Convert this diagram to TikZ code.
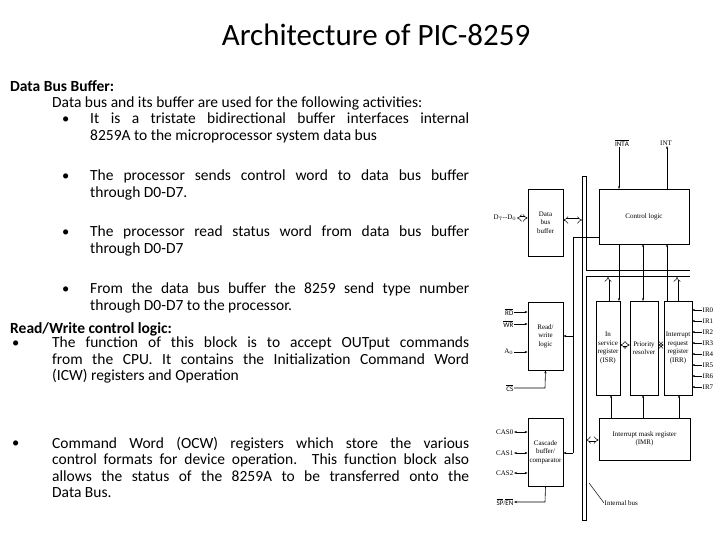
\documentclass[tikz,border=0pt]{standalone}
\usepackage{fontspec}
\setmainfont{Carlito}
\newfontfamily\dg{Liberation Serif}
\usetikzlibrary{arrows.meta}
\hyphenpenalty=10000
\exhyphenpenalty=10000
\begin{document}
\begin{tikzpicture}[x=1pt,y=-1pt,
  body/.style={anchor=north west,inner sep=0,align=justify,font=\fontsize{15.5}{16.3}\selectfont},
  bul/.style={anchor=west,inner sep=0,font=\fontsize{14.5}{16}\selectfont},
  blk/.style={draw,line width=0.7pt,inner sep=0,align=center,font=\dg\fontsize{7}{8.5}\selectfont},
  lbl/.style={font=\dg\fontsize{7}{8}\selectfont,inner sep=0.5pt},
  ar/.style={-{Stealth[length=3pt]},line width=0.6pt},
  dar/.style={{Stealth[length=3pt]}-{Stealth[length=3pt]},line width=0.6pt},
  hol/.style={double,double distance=2pt,line width=0.5pt,{Implies}-{Implies}},
  holu/.style={double,double distance=2pt,line width=0.5pt,-{Implies}}]
\useasboundingbox (0,0) rectangle (720,540);
% title
\node[font=\fontsize{31}{33}\selectfont] (title) at (376,35) {Architecture of PIC-8259};
% left text
\node[body,font=\bfseries\fontsize{15.5}{16}\selectfont] (h1) at (10,80) {Data Bus Buffer:};
\node[body] (t1) at (52,97) {Data bus and its buffer are used for the following activities:};
\foreach \y/\n in {120/b1,177/b2,233/b3,290/b4}{\node[bul] (\n) at (62,\y) {\textbullet};}
\node[body,text width=379] (p1) at (90,113) {It is a tristate bidirectional buffer interfaces internal\linebreak 8259A to the microprocessor system data bus};
\node[body,text width=379] (p2) at (90,170) {The processor sends control word to data bus buffer\linebreak through D0-D7.};
\node[body,text width=379] (p3) at (90,226) {The processor read status word from data bus buffer\linebreak through D0-D7};
\node[body,text width=379] (p4) at (90,283) {From the data bus buffer the 8259 send type number\linebreak through D0-D7 to the processor.};
\node[body,font=\bfseries\fontsize{15.5}{16}\selectfont] (h2) at (10,322) {Read/Write control logic:};
\node[bul] (b5) at (12,344) {\textbullet};
\node[body,text width=417] (p5) at (52,337) {The function of this block is to accept OUTput commands\linebreak from the CPU. It contains the Initialization Command Word\linebreak (ICW) registers and Operation};
\node[bul] (b6) at (12,444) {\textbullet};
\node[body,text width=417] (p6) at (52,437) {Command Word (OCW) registers which store the various\linebreak control formats for device operation. This function block also\linebreak allows the status of the 8259A to be transferred onto the\linebreak Data Bus.};
% diagram blocks
\node[blk,minimum width=35,minimum height=67] (dbb) at (545.5,222.5) {Data\\bus\\buffer};
\node[blk,minimum width=90,minimum height=55] (cl) at (644,216.5) {Control logic};
\node[blk,minimum width=35,minimum height=68] (rw) at (545.5,336) {Read/\\write\\logic};
\node[blk,minimum width=35,minimum height=68] (cas) at (545.5,452) {Cascade\\buffer/\\comparator};
\node[blk,minimum width=24,minimum height=94] (isr) at (608,348) {In\\service\\register\\(ISR)};
\node[blk,minimum width=28,minimum height=94] (pr) at (644,348) {Priority\\resolver};
\node[blk,minimum width=28,minimum height=94] (irr) at (678,348) {Interrupt\\request\\register\\(IRR)};
\node[blk,minimum width=91,minimum height=42] (imr) at (644.5,439) {Interrupt mask register\\(IMR)};
% bus
\draw[line width=0.7pt] (582,520) -- (582,176) -- (586,176) -- (586,270) -- (690,270);
\draw[line width=0.7pt] (690,276) -- (586,276) -- (586,520) -- (582,520);
% labels
\node[lbl] (d) at (505,218) {D$_7$--D$_0$};
\node[lbl] (inta) at (622,143) {$\overline{\mathrm{INTA}}$};
\node[lbl] (int) at (666,143) {INT};
\node[lbl,anchor=east] (rd) at (514,312) {$\overline{\mathrm{RD}}$};
\node[lbl,anchor=east] (wr) at (514,324) {$\overline{\mathrm{WR}}$};
\node[lbl,anchor=east] (a0) at (514,352) {A$_0$};
\node[lbl,anchor=east] (cs) at (514,388) {$\overline{\mathrm{CS}}$};
\node[lbl,anchor=east] (c0) at (514,432) {CAS0};
\node[lbl,anchor=east] (c1) at (514,453) {CAS1};
\node[lbl,anchor=east] (c2) at (514,473) {CAS2};
\node[lbl,anchor=east] (sp) at (514,502) {$\overline{\mathrm{SP}}$/$\overline{\mathrm{EN}}$};
\node[lbl,anchor=west] (ib) at (604,503) {Internal bus};
\foreach \i in {0,...,7}{\node[lbl,anchor=west] (ir\i) at (702,{310+11*\i}) {IR\i};
  \draw[ar] (ir\i.west) -- ++(-10,0);}
% connectors
\draw[hol] (d.east) -- (dbb.west|-d.east);
\draw[hol] (dbb.east|-0,220) -- (582,220);
\draw[ar] (inta.south-|619,0) -- (619,189);
\draw[ar] (667,189) -- (int.south-|667,0);
\draw[line width=0.6pt] (599,237) -- (573,237) -- (573,453);
\draw[ar] (573,336) -- (rw.east|-0,336);
\draw[ar] (573,453) -- (cas.east|-0,453);
\draw[ar] (619,244) -- (619,301);
\draw[dar] (643,244) -- (643,301);
\draw[ar] (667,301) -- (667,244);
\draw[holu] (608,301) -- (608,277);
\draw[holu] (677,301) -- (677,277);
\draw[hol] (isr.east|-0,345) -- (pr.west|-0,345);
\draw[hol] (pr.east|-0,345) -- (irr.west|-0,345);
\draw[ar] (611,418) -- (611,395);
\draw[ar] (643,418) -- (643,395);
\draw[ar] (679,418) -- (679,395);
\draw[hol] (586,440) -- (imr.west|-0,440);
\draw[ar] (rd.east) -- (rw.west|-rd.east);
\draw[ar] (wr.east) -- (rw.west|-wr.east);
\draw[ar] (a0.east) -- (rw.west|-a0.east);
\draw[ar] (cs.east) -- (545,388) -- (rw.south);
\draw[dar] (c0.east) -- (cas.west|-c0.east);
\draw[dar] (c1.east) -- (cas.west|-c1.east);
\draw[dar] (c2.east) -- (cas.west|-c2.east);
\draw[ar] (cas.south) -- (545,502) -- (sp.east);
\draw[line width=0.5pt] (ib.west) -- (589,483);
\end{tikzpicture}
\end{document}
